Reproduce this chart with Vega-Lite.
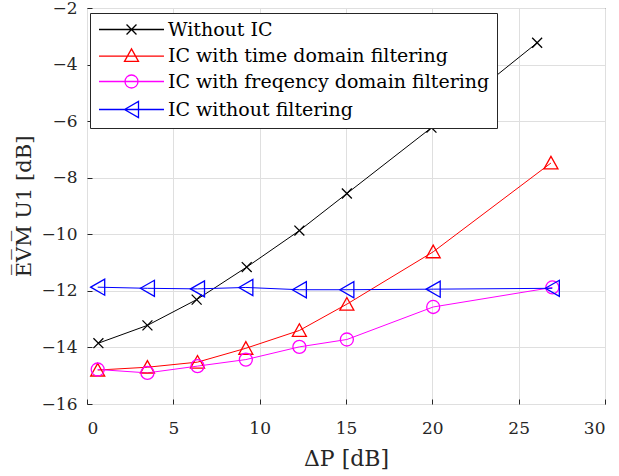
{
  "$schema": "https://vega.github.io/schema/vega-lite/v6.json",
  "width": 518,
  "height": 396,
  "autosize": {"type": "none"},
  "padding": {"left": 87, "top": 8, "right": 14, "bottom": 72},
  "background": "white",
  "config": {
    "font": "DejaVu Serif",
    "view": {"stroke": "#262626", "strokeWidth": 1},
    "axis": {
      "labelFont": "DejaVu Serif",
      "labelFontSize": 17,
      "labelColor": "#262626",
      "titleFont": "DejaVu Serif",
      "titleFontSize": 21,
      "titleFontWeight": "normal",
      "titleColor": "#262626",
      "gridColor": "#dfdfdf",
      "gridWidth": 1,
      "domain": false,
      "tickColor": "#262626",
      "tickSize": -5,
      "tickWidth": 1
    },
    "legend": {
      "labelLimit": 0
    }
  },
  "data": {
    "values": [
      {"series": "Without IC", "dp": 0.66, "evm": -13.85},
      {"series": "Without IC", "dp": 3.5, "evm": -13.22},
      {"series": "Without IC", "dp": 6.35, "evm": -12.31},
      {"series": "Without IC", "dp": 9.25, "evm": -11.16},
      {"series": "Without IC", "dp": 12.3, "evm": -9.87},
      {"series": "Without IC", "dp": 15.05, "evm": -8.56},
      {"series": "Without IC", "dp": 19.95, "evm": -6.23},
      {"series": "Without IC", "dp": 26.07, "evm": -3.23},
      {"series": "IC with time domain filtering", "dp": 0.62, "evm": -14.8},
      {"series": "IC with time domain filtering", "dp": 3.5, "evm": -14.7},
      {"series": "IC with time domain filtering", "dp": 6.4, "evm": -14.52},
      {"series": "IC with time domain filtering", "dp": 9.2, "evm": -14.03},
      {"series": "IC with time domain filtering", "dp": 12.3, "evm": -13.4},
      {"series": "IC with time domain filtering", "dp": 15.05, "evm": -12.47},
      {"series": "IC with time domain filtering", "dp": 20.05, "evm": -10.62},
      {"series": "IC with time domain filtering", "dp": 26.87, "evm": -7.48},
      {"series": "IC with freqency domain filtering", "dp": 0.62, "evm": -14.78},
      {"series": "IC with freqency domain filtering", "dp": 3.5, "evm": -14.9},
      {"series": "IC with freqency domain filtering", "dp": 6.4, "evm": -14.66},
      {"series": "IC with freqency domain filtering", "dp": 9.2, "evm": -14.43},
      {"series": "IC with freqency domain filtering", "dp": 12.3, "evm": -13.98},
      {"series": "IC with freqency domain filtering", "dp": 15.05, "evm": -13.72},
      {"series": "IC with freqency domain filtering", "dp": 20.05, "evm": -12.57},
      {"series": "IC with freqency domain filtering", "dp": 26.95, "evm": -11.88},
      {"series": "IC without filtering", "dp": 0.62, "evm": -11.87},
      {"series": "IC without filtering", "dp": 3.5, "evm": -11.91},
      {"series": "IC without filtering", "dp": 6.4, "evm": -11.93},
      {"series": "IC without filtering", "dp": 9.2, "evm": -11.88},
      {"series": "IC without filtering", "dp": 12.3, "evm": -11.96},
      {"series": "IC without filtering", "dp": 15.05, "evm": -11.96},
      {"series": "IC without filtering", "dp": 20.05, "evm": -11.94},
      {"series": "IC without filtering", "dp": 26.95, "evm": -11.91}
    ]
  },
  "encoding": {
    "x": {
      "field": "dp",
      "type": "quantitative",
      "scale": {"domain": [0, 30], "nice": false, "zero": false},
      "axis": {
        "title": "ΔP [dB]",
        "titleFontSize": 22,
        "values": [0, 5, 10, 15, 20, 25, 30],
        "labelPadding": 21,
        "titlePadding": 12
      }
    },
    "y": {
      "field": "evm",
      "type": "quantitative",
      "scale": {"domain": [-16, -2], "nice": false, "zero": false},
      "axis": {
        "title": "E̅V̅M̅ U1 [dB]",
        "values": [-16, -14, -12, -10, -8, -6, -4, -2],
        "labelPadding": 15,
        "titlePadding": 7
      }
    },
    "color": {
      "field": "series",
      "type": "nominal",
      "scale": {
        "domain": ["Without IC", "IC with time domain filtering", "IC with freqency domain filtering", "IC without filtering"],
        "range": ["#000000", "#ff0000", "#ff00ff", "#0000ff"]
      },
      "legend": {
        "title": null,
        "orient": "none",
        "legendX": 3,
        "legendY": 5,
        "fillColor": "white",
        "strokeColor": "#262626",
        "padding": 7,
        "labelFont": "DejaVu Serif",
        "labelFontSize": 19,
        "labelColor": "#000000",
        "labelLimit": 0,
        "symbolSize": 196,
        "symbolStrokeWidth": 1.3,
        "symbolOffset": 25,
        "labelOffset": 27,
        "rowPadding": 6
      }
    }
  },
  "layer": [
    {
      "mark": {"type": "line", "strokeWidth": 1}
    },
    {
      "transform": [{"filter": "datum.series === 'Without IC'"}],
      "mark": {"type": "point", "filled": false, "size": 196, "strokeWidth": 1.3, "opacity": 1,
               "shape": "M-0.71,-0.71L0.71,0.71M-0.71,0.71L0.71,-0.71"}
    },
    {
      "transform": [{"filter": "datum.series === 'IC with time domain filtering'"}],
      "mark": {"type": "point", "filled": false, "size": 196, "strokeWidth": 1.3, "opacity": 1,
               "shape": "M0,-0.95L-1,0.85L1,0.85Z"}
    },
    {
      "transform": [{"filter": "datum.series === 'IC with freqency domain filtering'"}],
      "mark": {"type": "point", "filled": false, "size": 196, "strokeWidth": 1.3, "opacity": 1,
               "shape": "M0.93,0A0.93,0.93 0 1,1 -0.93,0A0.93,0.93 0 1,1 0.93,0Z"}
    },
    {
      "transform": [{"filter": "datum.series === 'IC without filtering'"}],
      "mark": {"type": "point", "filled": false, "size": 196, "strokeWidth": 1.3, "opacity": 1,
               "shape": "M-1,0L1,-1.15L1,1.15Z"}
    },
    {
      "transform": [{"filter": "datum.dp < -100"}],
      "mark": {"type": "point", "filled": false, "size": 196, "strokeWidth": 1.3, "opacity": 1},
      "encoding": {
        "shape": {
          "field": "series",
          "type": "nominal",
          "scale": {
            "domain": ["Without IC", "IC with time domain filtering", "IC with freqency domain filtering", "IC without filtering"],
            "range": [
              "M-4.64,0H4.64M-0.71,-0.71L0.71,0.71M-0.71,0.71L0.71,-0.71",
              "M-4.64,0.1H4.64M0,-0.95L-1,0.85L1,0.85Z",
              "M-4.64,0H4.64M0.93,0A0.93,0.93 0 1,1 -0.93,0A0.93,0.93 0 1,1 0.93,0Z",
              "M-4.64,0H4.64M-1,0L1,-1.15L1,1.15Z"
            ]
          },
          "legend": {
            "title": null,
            "orient": "none",
            "legendX": 3,
            "legendY": 5,
            "fillColor": "white",
            "strokeColor": "#262626",
            "padding": 7,
            "labelFont": "DejaVu Serif",
            "labelFontSize": 19,
            "labelColor": "#000000",
            "labelLimit": 0,
            "symbolSize": 196,
            "symbolStrokeWidth": 1.3,
            "symbolOffset": 25,
            "labelOffset": 27,
            "rowPadding": 6
          }
        }
      }
    }
  ]
}
